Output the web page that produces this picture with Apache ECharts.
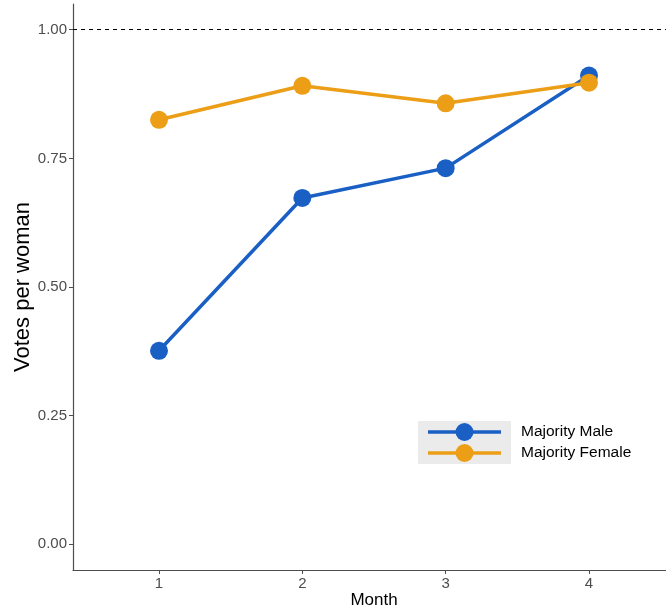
<!DOCTYPE html>
<html><head><meta charset="utf-8">
<script src="https://cdn.jsdelivr.net/npm/echarts@6/dist/echarts.min.js"></script>
<style>html,body{margin:0;padding:0;background:#fff}#c{width:666px;height:612px}</style>
</head><body><div id="c"></div>
<script>
const months = [1, 2, 3, 4];
const majorityMale = [0.376, 0.673, 0.731, 0.911];
const majorityFemale = [0.825, 0.891, 0.857, 0.897];
const yTicks = [0, 0.25, 0.5, 0.75, 1];
const refLine = 1;
const seriesNames = ['Majority Male', 'Majority Female'];
const colors = ['#1a5fc4', '#eb9e16'];

const chart = echarts.init(document.getElementById('c'), null, {renderer: 'canvas'});
const font = 'Liberation Sans, Arial, sans-serif';
const mk = (name, vals, color) => ({
  name, type: 'line', data: months.map((m, i) => [m, vals[i]]),
  symbol: 'circle', symbolSize: 18,
  lineStyle: {color, width: 3.5}, itemStyle: {color},
  emphasis: {disabled: true}, animation: false
});
const male = mk(seriesNames[0], majorityMale, colors[0]);
const female = mk(seriesNames[1], majorityFemale, colors[1]);
male.markLine = {silent: true, symbol: 'none', label: {show: false},
  lineStyle: {color: '#000', type: [4, 4], width: 1}, data: [{yAxis: refLine}], animation: false};

const legendGraphics = [{type: 'rect', left: 418, top: 421, shape: {width: 93, height: 43}, style: {fill: '#ebebeb'}, z: 0}];
seriesNames.forEach((n, i) => {
  const cy = 432 + i * 21;
  legendGraphics.push(
    {type: 'line', shape: {x1: 428, y1: cy, x2: 501, y2: cy}, style: {stroke: colors[i], lineWidth: 3.5}, z: 1},
    {type: 'circle', shape: {cx: 464.5, cy: cy, r: 9}, style: {fill: colors[i]}, z: 2},
    {type: 'text', x: 521, y: cy, style: {text: n, fontFamily: font, fontSize: 15.5, fill: '#000', verticalAlign: 'middle'}, z: 2}
  );
});

chart.setOption({
  animation: false,
  grid: {left: 73, right: -9, top: 4, bottom: 42, containLabel: false, outerBoundsMode: 'none'},
  graphic: legendGraphics,
  xAxis: {
    type: 'value', min: 0.4, max: 4.6, name: 'Month', nameLocation: 'middle', nameGap: 22, nameMoveOverlap: false,
    nameTextStyle: {fontFamily: font, fontSize: 17, color: '#000'},
    axisLine: {show: true, onZero: false, lineStyle: {color: '#4d4d4d', width: 1.2}},
    axisTick: {show: true, length: 4, customValues: months, lineStyle: {color: '#4d4d4d'}},
    axisLabel: {customValues: months, fontFamily: font, fontSize: 15, color: '#4d4d4d', margin: 6},
    splitLine: {show: false}
  },
  yAxis: {
    type: 'value', min: -0.05, max: 1.05, name: 'Votes per woman', nameLocation: 'middle', nameGap: 39, nameMoveOverlap: false,
    nameTextStyle: {fontFamily: font, fontSize: 22, color: '#000'},
    axisLine: {show: true, onZero: false, lineStyle: {color: '#4d4d4d', width: 1.2}},
    axisTick: {show: true, length: 4, customValues: yTicks, lineStyle: {color: '#4d4d4d'}},
    axisLabel: {customValues: yTicks, formatter: v => v.toFixed(2), fontFamily: font, fontSize: 15, color: '#4d4d4d', margin: 6},
    splitLine: {show: false}
  },
  series: [male, female]
});
</script></body></html>
